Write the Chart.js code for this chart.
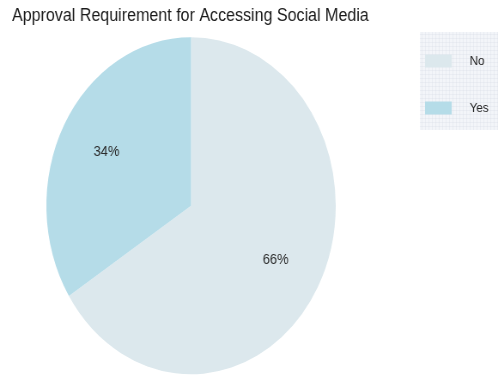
<!DOCTYPE html>
<html>
<head>
<meta charset="utf-8">
<script src="https://cdn.jsdelivr.net/npm/chart.js@4.4.1/dist/chart.umd.min.js"></script>
<style>
  html, body { margin: 0; padding: 0; background: #ffffff; overflow: hidden; }
</style>
</head>
<body>
<!-- the reference is squeezed sideways, so draw wider and let the inline style squeeze it -->
<canvas id="chartApproval" width="580" height="375" style="display:block;width:498px;height:375px"></canvas>
<script>
"use strict";

const categories = ['No', 'Yes'];
const shares = [66, 34];
const sliceColors = ['#dce8ed', '#b5dce8'];
const chartTitle = 'Approval Requirement for Accessing Social Media';

const FONT = '"Liberation Sans", Arial, Helvetica, sans-serif';

//--------------------------------percent labels inside slices---------------------------------
const sliceLabels = {
    id: 'sliceLabels',
    afterDatasetsDraw(chart) {
        const ctx = chart.ctx;
        const meta = chart.getDatasetMeta(0);
        const values = chart.data.datasets[0].data;
        const total = values.reduce((a, b) => a + b, 0);
        ctx.save();
        ctx.font = '15px ' + FONT;
        ctx.fillStyle = '#2b2b2b';
        ctx.textAlign = 'center';
        ctx.textBaseline = 'middle';
        meta.data.forEach((arc, i) => {
            const mid = (arc.startAngle + arc.endAngle) / 2;
            const r = arc.outerRadius * 0.667;
            const pct = Math.round(values[i] / total * 100) + '%';
            ctx.fillText(pct, arc.x + Math.cos(mid) * r, arc.y + Math.sin(mid) * r);
        });
        ctx.restore();
    }
};

//--------------------------------legend box on the right---------------------------------
const sideLegend = {
    id: 'sideLegend',
    afterDraw(chart) {
        const ctx = chart.ctx;
        const left = 489, top = 32, right = chart.width, bottom = 130;
        ctx.save();
        ctx.fillStyle = '#f3f5f9';
        ctx.fillRect(left, top, right - left, bottom - top);
        // faint grid texture
        ctx.strokeStyle = 'rgba(214, 218, 228, 0.3)';
        ctx.lineWidth = 1;
        for (let gx = left + 2; gx < right; gx += 4) {
            ctx.beginPath(); ctx.moveTo(gx + 0.5, top); ctx.lineTo(gx + 0.5, bottom); ctx.stroke();
        }
        for (let gy = top + 2; gy < bottom; gy += 4) {
            ctx.beginPath(); ctx.moveTo(left, gy + 0.5); ctx.lineTo(right, gy + 0.5); ctx.stroke();
        }
        ctx.font = '13.5px ' + FONT;
        ctx.textAlign = 'left';
        ctx.textBaseline = 'middle';
        chart.data.labels.forEach((label, i) => {
            const cy = 61 + i * 47;
            ctx.fillStyle = chart.data.datasets[0].backgroundColor[i];
            ctx.fillRect(495, cy - 6.5, 31, 13);
            ctx.fillStyle = '#222222';
            ctx.fillText(label, 547, cy);
        });
        ctx.restore();
    }
};

const approval = document.getElementById('chartApproval').getContext('2d');
const chartApproval = new Chart(approval, {
    type: 'pie',
    data: {
        labels: categories,
        datasets: [{
            data: shares,
            backgroundColor: sliceColors,
            borderWidth: 0,
            hoverOffset: 0,
            offset: 0
        }]
    },
    options: {
        responsive: false,
        devicePixelRatio: 1,
        animation: false,
        events: [],
        radius: 168.5,
        layout: {
            padding: { left: 14, right: 149, top: 0, bottom: 0.5 }
        },
        plugins: {
            legend: { display: false },
            tooltip: { enabled: false },
            title: {
                display: true,
                text: chartTitle,
                align: 'start',
                color: '#1a1a1a',
                font: { family: FONT, size: 18.7, weight: 'normal', lineHeight: 1.2 },
                padding: { top: 5, bottom: 9.6 }
            }
        }
    },
    plugins: [sliceLabels, sideLegend]
});
</script>
</body>
</html>
